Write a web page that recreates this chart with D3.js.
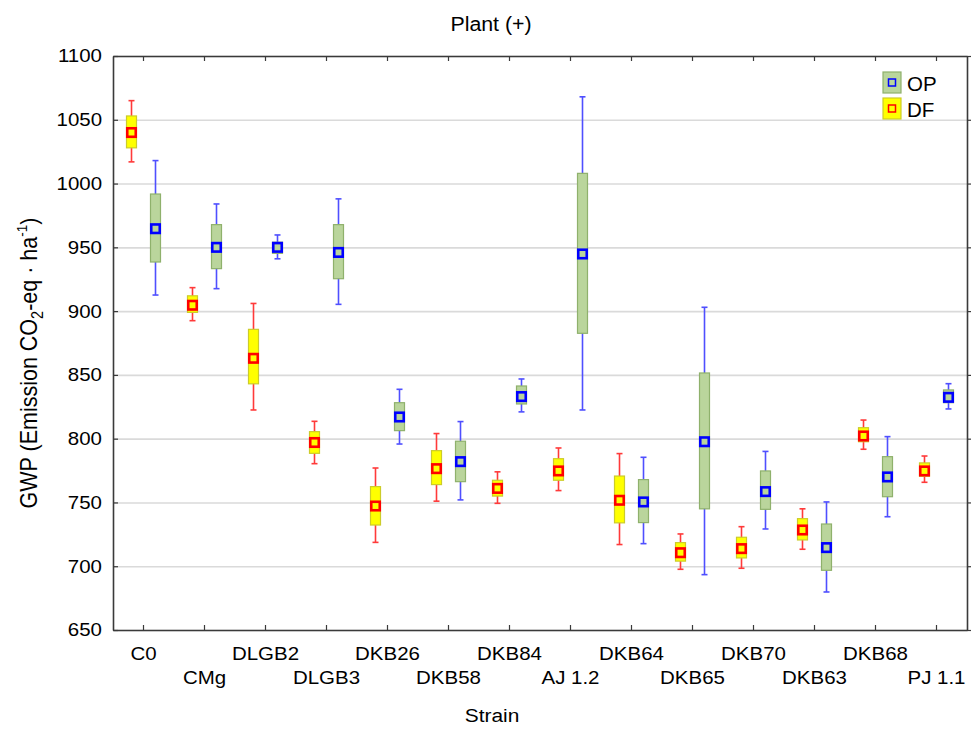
<!DOCTYPE html>
<html>
<head>
<meta charset="utf-8">
<script src="https://cdn.jsdelivr.net/npm/d3@7"></script>
<style>
  body { margin: 0; background: #ffffff; }
  svg { display: block; font-family: "Liberation Sans", Arial, Helvetica, sans-serif; }
</style>
</head>
<body>
<svg id="chart" width="979" height="729"></svg>
<script>
// Strains along the x axis
const categories = ["C0", "CMg", "DLGB2", "DLGB3", "DKB26", "DKB58", "DKB84",
                    "AJ 1.2", "DKB64", "DKB65", "DKB70", "DKB63", "DKB68", "PJ 1.1"];

// OP series: whisker low, box low, mean, box high, whisker high
const opWhiskerLow  = [912.6, 917.6, 941.0, 905.3, 795.8, 752.0, 821.0, 822.5, 717.7, 693.4, 729.2, 679.8, 738.8, 823.3];
const opBoxLow      = [938.5, 933.3, 945.3, 925.4, 806.3, 766.3, 827.2, 882.6, 734.2, 745.0, 744.6, 696.8, 754.5, 828.2];
const opMean        = [964.6, 950.0, 950.0, 946.0, 817.0, 782.0, 833.0, 944.8, 750.4, 797.6, 758.5, 714.6, 770.0, 832.4];
const opBoxHigh     = [991.8, 967.8, 954.0, 967.8, 828.2, 798.0, 841.3, 1008.0, 767.9, 851.5, 774.7, 733.1, 785.9, 838.2];
const opWhiskerHigh = [1018.0, 984.0, 959.7, 988.0, 838.7, 813.4, 846.8, 1068.0, 785.4, 903.0, 790.0, 750.4, 801.6, 843.1];

// DF series: whisker low, box low, mean, box high, whisker high
const dfWhiskerLow  = [1017.0, 892.5, 822.5, 780.4, 718.7, 751.0, 749.3, 759.3, 717.0, 697.6, 698.4, 713.3, 791.7, 765.8];
const dfBoxLow      = [1028.0, 899.0, 843.0, 788.5, 732.3, 764.0, 755.0, 767.4, 734.0, 704.0, 706.5, 720.6, 797.6, 770.5];
const dfMean        = [1040.0, 904.6, 863.0, 797.0, 747.2, 776.5, 761.0, 774.7, 751.7, 710.6, 713.8, 728.4, 802.1, 774.7];
const dfBoxHigh     = [1053.0, 912.0, 885.7, 805.5, 762.4, 790.6, 767.4, 784.3, 770.7, 718.5, 722.7, 737.3, 808.6, 781.0];
const dfWhiskerHigh = [1065.0, 918.4, 906.0, 813.6, 777.0, 804.0, 774.0, 792.7, 788.3, 725.3, 731.0, 745.0, 814.6, 786.4];

const yTickValues = [650, 700, 750, 800, 850, 900, 950, 1000, 1050, 1100];
const seriesNames = ["OP", "DF"];

// ---- layout ----
const svg = d3.select("#chart");
const plot = { left: 113, right: 967, top: 56, bottom: 630 };
const stretch = "scale(1.1,1)";

const style = {
  OP: { fill: "#bad59c", stroke: "#8fb16c", whisker: "#4f4fff", mean: "#0000ff" },
  DF: { fill: "#ffff00", stroke: "#cccc2a", whisker: "#ff3a3a", mean: "#ff0000" }
};

const x = d3.scaleBand().domain(categories).range([plot.left, plot.right]).padding(0);
const offset = d3.scalePoint().domain(["DF", "OP"]).range([-12, 12]);
const y = d3.scaleLinear().domain([650, 1100]).range([plot.bottom, plot.top]);

// Rows for drawing
const stats = {
  OP: { wl: opWhiskerLow, bl: opBoxLow, m: opMean, bh: opBoxHigh, wh: opWhiskerHigh },
  DF: { wl: dfWhiskerLow, bl: dfBoxLow, m: dfMean, bh: dfBoxHigh, wh: dfWhiskerHigh }
};
const rows = [];
seriesNames.forEach(s => {
  categories.forEach((c, i) => {
    rows.push({ series: s, cat: c, idx: i,
      wl: stats[s].wl[i], bl: stats[s].bl[i], m: stats[s].m[i],
      bh: stats[s].bh[i], wh: stats[s].wh[i] });
  });
});
const cx = d => x(d.cat) + x.bandwidth() / 2 + offset(d.series);

// ---- gridlines ----
svg.append("g")
  .attr("transform", `translate(${plot.left},0)`)
  .call(d3.axisLeft(y).tickValues(yTickValues).tickSize(-(plot.right - plot.left)).tickFormat(""))
  .call(g => g.select(".domain").remove())
  .call(g => g.selectAll("line").attr("stroke", "#dadada").attr("stroke-width", 1.6));

// ---- boxes ----
const boxW = 10, capW = 6, markS = 8.5;
const groups = svg.append("g").selectAll("g.box").data(rows).join("g").attr("class", "box");

groups.append("line")
  .attr("x1", cx).attr("x2", cx)
  .attr("y1", d => y(d.wh)).attr("y2", d => y(d.wl))
  .attr("stroke", d => style[d.series].whisker).attr("stroke-width", 1.6);
groups.append("line")
  .attr("x1", d => cx(d) - capW / 2).attr("x2", d => cx(d) + capW / 2)
  .attr("y1", d => y(d.wh)).attr("y2", d => y(d.wh))
  .attr("stroke", d => style[d.series].whisker).attr("stroke-width", 1.6);
groups.append("line")
  .attr("x1", d => cx(d) - capW / 2).attr("x2", d => cx(d) + capW / 2)
  .attr("y1", d => y(d.wl)).attr("y2", d => y(d.wl))
  .attr("stroke", d => style[d.series].whisker).attr("stroke-width", 1.6);
groups.append("rect")
  .attr("x", d => cx(d) - boxW / 2).attr("width", boxW)
  .attr("y", d => y(d.bh)).attr("height", d => y(d.bl) - y(d.bh))
  .attr("fill", d => style[d.series].fill)
  .attr("stroke", d => style[d.series].stroke).attr("stroke-width", 1.2);
groups.append("rect")
  .attr("x", d => cx(d) - markS / 2).attr("y", d => y(d.m) - markS / 2)
  .attr("width", markS).attr("height", markS)
  .attr("fill", d => style[d.series].fill)
  .attr("stroke", d => style[d.series].mean).attr("stroke-width", 2.6);

// ---- frame and axes ----
const axisColor = "#3a3a3a";
const axisLeftG = svg.append("g")
  .attr("transform", `translate(${plot.left},0)`)
  .call(d3.axisLeft(y).tickValues(yTickValues).tickFormat(d3.format("d"))
        .tickSizeInner(-5).tickSizeOuter(0).tickPadding(10));
axisLeftG.selectAll("text").attr("font-size", 18.6).attr("fill", "#000").attr("transform", stretch);

const axisRightG = svg.append("g")
  .attr("transform", `translate(${plot.right},0)`)
  .call(d3.axisRight(y).tickValues(yTickValues).tickFormat("").tickSizeInner(4).tickSizeOuter(0));

const axisBottomG = svg.append("g")
  .attr("transform", `translate(0,${plot.bottom})`)
  .call(d3.axisBottom(x).tickSizeInner(-5).tickSizeOuter(0).tickPadding(17));
axisBottomG.selectAll("text")
  .attr("font-size", 18.6).attr("fill", "#000")
  .attr("transform", (d, i) => (i % 2 ? "translate(0,24) " : "") + stretch);

const axisTopG = svg.append("g")
  .attr("transform", `translate(0,${plot.top})`)
  .call(d3.axisTop(x).tickSizeInner(-5).tickSizeOuter(0).tickFormat(""));

[axisLeftG, axisRightG, axisBottomG, axisTopG].forEach(g => {
  g.select(".domain").attr("stroke", axisColor).attr("stroke-width", 1.6);
  g.selectAll(".tick line").attr("stroke", axisColor).attr("stroke-width", 1.2);
});

// ---- titles ----
svg.append("text")
  .attr("transform", `translate(491,31) ${stretch}`)
  .attr("text-anchor", "middle").attr("font-size", 19.4)
  .text("Plant (+)");

svg.append("text")
  .attr("transform", `translate(492,722) ${stretch}`)
  .attr("text-anchor", "middle").attr("font-size", 19)
  .text("Strain");

const yTitle = svg.append("text")
  .attr("transform", `translate(37,363) ${stretch} rotate(-90)`)
  .attr("text-anchor", "middle").attr("font-size", 21.5);
yTitle.append("tspan").text("GWP (Emission CO");
yTitle.append("tspan").attr("font-size", 14.5).attr("dy", 5.5).text("2");
yTitle.append("tspan").attr("dy", -5.5).text("-eq \u00B7 ha");
yTitle.append("tspan").attr("font-size", 13.5).attr("dy", -9).text("-1");
yTitle.append("tspan").attr("dy", 9).text(")");

// ---- legend ----
const legend = svg.append("g").selectAll("g").data(seriesNames).join("g")
  .attr("transform", (d, i) => `translate(883,${72 + i * 26})`);
legend.append("rect")
  .attr("width", 18).attr("height", 21)
  .attr("fill", d => style[d].fill).attr("stroke", d => style[d].stroke).attr("stroke-width", 1.2);
legend.append("rect")
  .attr("x", 5.5).attr("y", 7).attr("width", 7).attr("height", 7)
  .attr("fill", "none").attr("stroke", d => style[d].mean).attr("stroke-width", 1.5);
legend.append("text")
  .attr("x", 24).attr("y", 18.5)
  .attr("font-size", 20.5).attr("fill", "#000")
  .text(d => d);
</script>
</body>
</html>
